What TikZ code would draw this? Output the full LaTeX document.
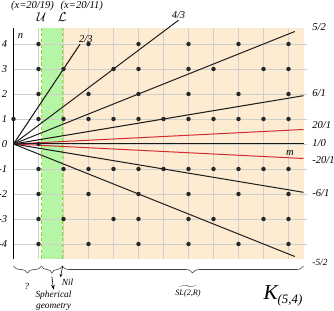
\documentclass[tikz,border=0pt]{standalone}
\usepackage{fontspec}
\setmainfont{Liberation Serif}
\usetikzlibrary{calc,positioning,arrows.meta,decorations.pathreplacing}
\definecolor{PeachFill}{HTML}{FDEBD2}
\definecolor{MintFill}{HTML}{B6F5A6}
\definecolor{LimeDash}{HTML}{7FE010}
\definecolor{GridGray}{HTML}{CFCFCF}
\definecolor{SlopeRed}{HTML}{D42A34}

\begin{document}
\begin{tikzpicture}[x=0.75cm,y=0.75cm,
    every node/.style={font=\itshape\fontsize{9}{10}\selectfont, inner sep=1pt},
    lattice/.style={circle, fill=black!85, inner sep=0pt, minimum size=3.8pt},
    slope/.style={line width=0.85pt, black!90},
    redslope/.style={line width=0.85pt, SlopeRed},
    border/.style={line width=1pt, LimeDash, dash pattern=on 3pt off 2pt},
    gridline/.style={line width=0.5pt, GridGray},
    curly/.style={decorate, decoration={brace, mirror, amplitude=6pt}, line width=0.5pt, black!75}
  ]
  \useasboundingbox (-0.54,-6.68) rectangle (12.82,5.76);
  \fill[PeachFill] (1.95,-4.6) rectangle (11.6,4.64);
  \fill[MintFill] (1.12,-4.6) rectangle (1.95,4.64);
  \foreach \n in {-4,...,4}
    \draw[gridline] (0,\n) -- (11.75,\n);
  \foreach \m in {1,...,11}
    \draw[gridline] (\m,-4.6) -- (\m,4.64);
  \draw[border] (1.12,-4.6) -- (1.12,4.64);
  \draw[border] (1.95,-4.6) -- (1.95,4.64);
  \draw[line width=0.9pt] (0,-4.6) -- (0,4.64);

  \coordinate (O) at (0,0);
  \coordinate (e23) at (2.66,3.99);
  \coordinate (e43) at (6.6,4.95);
  \coordinate (e52) at (11.25,4.5);
  \coordinate (e61) at (11.6,1.933);
  \coordinate (e201) at (11.6,0.58);
  \coordinate (e10) at (11.6,0);
  \coordinate (em201) at (11.6,-0.58);
  \coordinate (em61) at (11.6,-1.933);
  \coordinate (em52) at (11.25,-4.5);

  \draw[slope] (O) -- (e23);
  \draw[slope] (O) -- (e43);
  \draw[slope] (O) -- (e52);
  \draw[slope] (O) -- (e61);
  \draw[redslope] (O) -- (e201);
  \draw[slope] (O) -- (e10);
  \draw[redslope] (O) -- (em201);
  \draw[slope] (O) -- (em61);
  \draw[slope] (O) -- (em52);

  \foreach \m in {1,...,11}
    \foreach \n in {-4,...,4}{
      \pgfmathtruncatemacro{\g}{gcd(\m,abs(\n))}
      \ifnum\g=1 \node[lattice] (p\m\n) at (\m,\n) {};\fi
    }
  \node[lattice] (p01) at (0,1) {};

  \node[above right=0pt and -2pt] (l23) at (e23) {2/3};
  \node[above=0pt] (l43) at (e43) {4/3};
  \node[anchor=west] (l52) at (11.9,4.68) {5/2};
  \node[anchor=west] (l61) at (11.9,2.04) {6/1};
  \node[anchor=west] (l201) at (11.9,0.76) {20/1};
  \node[anchor=west] (l10) at (11.9,0.04) {1/0};
  \node[anchor=west] (lm201) at (11.9,-0.64) {-20/1};
  \node[anchor=west] (lm61) at (11.9,-1.96) {-6/1};
  \node[anchor=west, font=\itshape\fontsize{8}{9}\selectfont] (lm52) at (11.9,-4.72) {-5/2};

  \foreach \n in {-4,...,4}
    \node[anchor=east] (tick\n) at (-0.2,\n) {\n};
  \node (nlab) at (0.28,4.32) {n};
  \node (mlab) at (11.06,-0.36) {m};

  \node (xU) at (0.76,5.52) {(x=20/19)};
  \node (xL) at (2.73,5.52) {(x=20/11)};
  \node[font=\fontsize{11}{12}\selectfont] (U) at (1.12,5.06) {$\mathcal{U}$};
  \node[font=\fontsize{11}{12}\selectfont] (L) at (1.95,5.06) {$\mathcal{L}$};

  \draw[curly] (0,-4.88) -- (1.12,-4.88) coordinate[midway, yshift=-9pt] (qtip);
  \draw[curly] (1.12,-4.88) -- (1.95,-4.88) coordinate[midway, yshift=-9pt] (stip);
  \draw[curly, decoration={aspect=0.54}] (1.95,-4.88) -- (11.6,-4.88);
  \coordinate (nilfrom) at (1.97,-4.88);

  \node[font=\itshape\fontsize{8}{9}\selectfont] (qlab) at (0.53,-5.68) {?};
  \node[font=\itshape\fontsize{8}{9}\selectfont, align=center] (sph) at (1.6,-6.26) {Spherical\\geometry};
  \node[font=\itshape\fontsize{8}{9}\selectfont] (nil) at (2.16,-5.52) {Nil};
  \node[font=\itshape\fontsize{7}{8}\selectfont, inner sep=2pt] (sl) at (6.98,-5.9) {$\widetilde{\mbox{\itshape SL(2,R)}}$};
  \node (kname) at (10.78,-6.08) {{\fontsize{18}{18}\selectfont K}\raisebox{-3pt}{\fontsize{11}{11}\selectfont(5,4)}};

  \draw[-{Stealth[length=4pt]}, line width=0.5pt] (stip) -- (sph.north);
  \draw[-{Stealth[length=3pt]}, line width=0.5pt] (nilfrom) -- (nil.north west);
\end{tikzpicture}
\end{document}
